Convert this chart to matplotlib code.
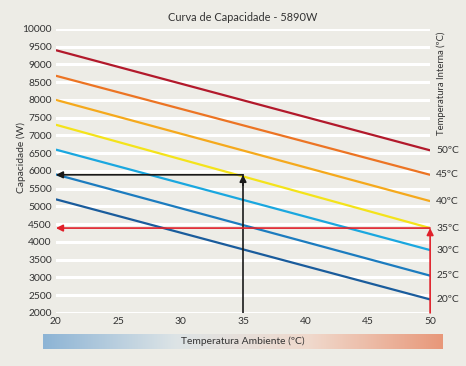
import numpy as np
import matplotlib.pyplot as plt
from matplotlib.colors import LinearSegmentedColormap

plt.rcParams['font.family'] = ['Lato', 'DejaVu Sans']

# temperatura ambiente (eixo x) e curvas por temperatura interna
amb_temp = [20, 50]
internal_temps = ["50ºC", "45ºC", "40ºC", "35ºC", "30ºC", "25ºC", "20ºC"]
cap_start = [9400, 8680, 8000, 7300, 6600, 5900, 5200]
cap_end = [6580, 5890, 5150, 4390, 3770, 3050, 2380]
line_colors = ["#b2192b", "#ec7423", "#f5a91c", "#f4e31a", "#1aa7df", "#1c7cbf", "#1a5c9c"]

# leitura de exemplo
ref_amb = 35
ref_cap = 5890
ref_int_cap = 4390

bg = "#edece6"
txt = "#333333"
fs = 7.4

fig = plt.figure(figsize=(4.66, 3.66), dpi=100, facecolor=bg)
ax = fig.add_axes([0.120, 0.145, 0.803, 0.776], facecolor=bg)

ax.set_xlim(20, 50)
ax.set_ylim(2000, 10000)
ax.set_xticks(range(20, 51, 5))
ax.set_yticks(range(2000, 10001, 500))
for y in range(2000, 10001, 500):
    ax.axhline(y, color="white", lw=2.2, zorder=1)

for s, e, c, lab in zip(cap_start, cap_end, line_colors, internal_temps):
    ax.plot(amb_temp, [s, e], color=c, lw=1.6, zorder=3, solid_capstyle="butt")
    ax.text(50.5, e, lab, fontsize=fs, color=txt, va="center", ha="left")

# seta preta: 35 ºC -> 5890 W
arrow_k = dict(lw=1.2, mutation_scale=10, shrinkA=0, shrinkB=0, arrowstyle="-|>")
ax.plot([ref_amb, ref_amb], [2000, ref_cap], color="#1a1a1a", lw=1.2, zorder=4)
ax.annotate("", xy=(ref_amb, ref_cap), xytext=(ref_amb, ref_cap - 300),
            arrowprops=dict(color="#1a1a1a", **arrow_k), zorder=4)
ax.annotate("", xy=(20, ref_cap), xytext=(ref_amb, ref_cap),
            arrowprops=dict(color="#1a1a1a", **arrow_k), zorder=4)

# seta vermelha: 50 ºC / 35 ºC interna
red = "#e0202a"
ax.annotate("", xy=(50, ref_int_cap), xytext=(50, 2000),
            arrowprops=dict(color=red, **arrow_k), zorder=4)
ax.annotate("", xy=(20, ref_int_cap), xytext=(50, ref_int_cap),
            arrowprops=dict(color=red, **arrow_k), zorder=4)

for sp in ax.spines.values():
    sp.set_visible(False)
ax.tick_params(length=0, labelsize=fs, colors=txt, pad=3)
ax.set_ylabel("Capacidade (W)", fontsize=fs, color=txt)
ax.yaxis.set_label_coords(-0.08, 0.546)
ax.set_title("Curva de Capacidade - 5890W", fontsize=7.9, color=txt, pad=6)

fig.text(441 / 466, 1 - 83 / 366, "Temperatura Interna (ºC)", rotation=90, fontsize=6.8,
         color=txt, ha="center", va="center")

# barra de gradiente
cax = fig.add_axes([43 / 466, 1 - 349 / 366, 400 / 466, 15 / 366])
cmap = LinearSegmentedColormap.from_list("amb", ["#8db4d5", "#dde4e6", "#f0d9cc", "#e8987a"])
cax.imshow(np.linspace(0, 1, 256)[None, :], aspect="auto", cmap=cmap, extent=[0, 1, 0, 1])
cax.set_axis_off()
cax.text(0.5, 0.5, "Temperatura Ambiente (ºC)", fontsize=fs, color=txt,
         ha="center", va="center", transform=cax.transAxes)

fig.savefig("out.png", dpi=100, facecolor=bg)
